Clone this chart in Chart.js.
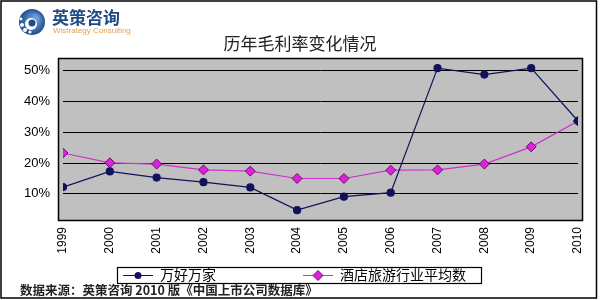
<!DOCTYPE html>
<html><head><meta charset="utf-8">
<script src="https://cdn.jsdelivr.net/npm/chart.js@4/dist/chart.umd.min.js"></script>
<style>html,body{margin:0;padding:0;background:#fff}#w{width:600px;height:300px}</style>
</head><body><div id="w"><canvas id="c" width="600" height="300"></canvas></div>
<script>
const years = [1999,2000,2001,2002,2003,2004,2005,2006,2007,2008,2009,2010];
const wanhao = [12.2,17.3,15.3,13.8,12.1,4.7,9.1,10.4,50.9,48.8,50.9,33.7];
const hotelAvg = [23.3,20.1,19.7,17.8,17.4,15.0,15.0,17.7,17.8,19.7,25.3,33.7];
const yTicks = [10,20,30,40,50];
const seriesNames = ['万好万家','酒店旅游行业平均数'];
const titleText = '历年毛利率变化情况';
const footerText = '数据来源：英策咨询 2010 版《中国上市公司数据库》';

const CJK = '"Noto Sans CJK SC", sans-serif';
const navy = '#12125a', pinkLine = '#cc33cc', pinkFill = '#dd22dd';

const decor = {
  id:'decor',
  beforeDraw(chart){
    const ctx = chart.ctx, a = chart.chartArea;
    ctx.save();
    ctx.fillStyle='#fff'; ctx.fillRect(0,0,600,300);
    ctx.fillStyle='#c0c0c0';
    ctx.fillRect(a.left-5, a.top, a.right-a.left+10, a.bottom-a.top);
    ctx.restore();
  },
  afterDraw(chart){
    const ctx = chart.ctx, a = chart.chartArea;
    ctx.save();
    ctx.strokeStyle='#000'; ctx.lineWidth=1.5;
    ctx.strokeRect(a.left-5+0.5, a.top+0.5, a.right-a.left+9, a.bottom-a.top);
    ctx.lineWidth=1.5;
    ctx.strokeRect(1,1,595.5,297);
    // title
    ctx.fillStyle='#222'; ctx.font='17px '+CJK; ctx.textAlign='center'; ctx.textBaseline='middle';
    ctx.fillText(titleText, 300, 44);
    // logo
    const g = ctx.createRadialGradient(36,18,2,32,22,13);
    g.addColorStop(0,'#6f9ed8'); g.addColorStop(1,'#1d4f8f');
    ctx.fillStyle=g; ctx.beginPath(); ctx.arc(32,22,13,0,Math.PI*2); ctx.fill();
    ctx.fillStyle='#fff'; ctx.beginPath(); ctx.arc(31,24,6,0,Math.PI*2); ctx.fill();
    ctx.fillStyle='#1d4f8f'; ctx.beginPath(); ctx.arc(32,23,3.5,0,Math.PI*2); ctx.fill();
    ctx.fillStyle='#fff';
    [[22,25,2],[25,30,2],[30,32,1.6],[21,19,1.4]].forEach(d=>{ctx.beginPath();ctx.arc(d[0],d[1],d[2],0,Math.PI*2);ctx.fill();});
    ctx.fillStyle='#1f4a86'; ctx.font='bold 17px '+CJK; ctx.textAlign='left'; ctx.textBaseline='middle';
    ctx.fillText('英策咨询', 52, 18);
    ctx.fillStyle='#e8a048'; ctx.font='8px "Liberation Sans", sans-serif';
    ctx.fillText('Wistrategy Consulting', 53, 31);
    // legend
    ctx.strokeStyle='#000'; ctx.lineWidth=1.2;
    ctx.strokeRect(117.5,267.5,364,16);
    const items = [{x:123, tx:160, color:navy, ds:0},{x:303, tx:340, color:pinkLine, ds:1}];
    ctx.font='14px '+CJK; ctx.textBaseline='middle';
    items.forEach((it,i)=>{
      ctx.strokeStyle = it.color; ctx.lineWidth=1;
      ctx.beginPath(); ctx.moveTo(it.x,275.5); ctx.lineTo(it.x+30,275.5); ctx.stroke();
      if(i===0){ ctx.fillStyle=navy; ctx.beginPath(); ctx.arc(it.x+15,275.5,3.5,0,Math.PI*2); ctx.fill(); }
      else { ctx.fillStyle=pinkFill; ctx.strokeStyle='#6a106a'; ctx.beginPath();
        ctx.moveTo(it.x+15,270.5); ctx.lineTo(it.x+20,275.5); ctx.lineTo(it.x+15,280.5); ctx.lineTo(it.x+10,275.5); ctx.closePath(); ctx.fill(); ctx.stroke(); }
      ctx.fillStyle='#000'; ctx.textAlign='left';
      ctx.fillText(seriesNames[it.ds], it.tx, 275);
    });
    // footer
    ctx.fillStyle='#222'; ctx.font='bold 12.5px '+CJK; ctx.textBaseline='middle';
    ctx.fillText(footerText, 20, 290);
    ctx.restore();
  }
};

new Chart(document.getElementById('c'), {
  type:'line',
  data:{
    datasets:[
      {label:seriesNames[0], data:years.map((y,i)=>({x:y,y:wanhao[i]})), borderColor:navy, backgroundColor:navy,
       borderWidth:1.2, pointRadius:3.5, pointStyle:'circle', pointBorderColor:navy, pointBackgroundColor:navy, tension:0},
      {label:seriesNames[1], data:years.map((y,i)=>({x:y,y:hotelAvg[i]})), borderColor:pinkLine, backgroundColor:pinkFill,
       borderWidth:1.2, pointRadius:5, pointStyle:'rectRot', pointBorderColor:'#6a106a', pointBackgroundColor:pinkFill, pointBorderWidth:1, tension:0}
    ]
  },
  options:{
    responsive:false, animation:false,
    layout:{padding:{top:58,left:0,right:22,bottom:0}},
    plugins:{legend:{display:false}, tooltip:{enabled:false}, title:{display:false}},
    scales:{
      x:{type:'linear', min:1999, max:2010,
        grid:{display:false, drawTicks:false}, border:{display:false},
        afterBuildTicks(s){ s.ticks = years.map(v=>({value:v})); },
        afterFit(s){ s.height = 80; },
        ticks:{minRotation:90, maxRotation:90, padding:7, color:'#000', font:{family:'"Liberation Sans", Arial, sans-serif', size:12},
          callback:(v)=>String(v)}
      },
      y:{min:1.5, max:54.2,
        grid:{color:'#000', lineWidth:1, drawTicks:false}, border:{display:false},
        afterBuildTicks(s){ s.ticks = yTicks.map(v=>({value:v})); },
        afterFit(s){ s.width = 63; },
        ticks:{padding:13, color:'#000', font:{family:'"Liberation Sans", Arial, sans-serif', size:13}, callback:(v)=>v+'%'}
      }
    }
  },
  plugins:[decor]
});
</script></body></html>
